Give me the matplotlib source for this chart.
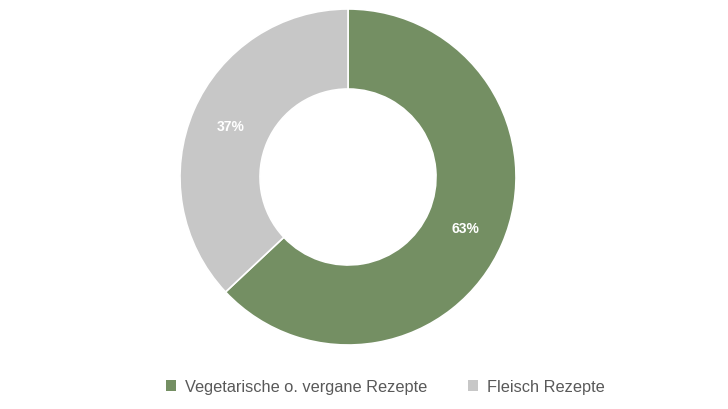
import matplotlib
matplotlib.use("Agg")
import matplotlib.pyplot as plt
from matplotlib.patches import Patch
import numpy as np

plt.rcParams['font.family'] = ['Liberation Sans', 'DejaVu Sans']

categories = ["Vegetarische o. vergane Rezepte", "Fleisch Rezepte"]
values = [63, 37]
labels = ["63%", "37%"]
colors = ["#748f63", "#c7c7c7"]

fig = plt.figure(figsize=(7.28, 4.10), dpi=100)
ax = fig.add_axes([180/728, 64/410, 336/728, 336/410])
wedges, _ = ax.pie(values, colors=colors, startangle=90, counterclock=False,
                   radius=1.0, wedgeprops=dict(width=80/168, edgecolor='white', linewidth=1.2))
r_mid = 1 - 40/168
cum = 0
for v, lab in zip(values, labels):
    mid = (cum + v/2) / sum(values) * 2*np.pi
    x = r_mid*np.sin(mid); y = r_mid*np.cos(mid)
    ax.text(x, y, lab, ha='center', va='center', color='white', fontsize=10, fontweight='bold')
    cum += v
ax.set_xlim(-1, 1); ax.set_ylim(-1, 1)
ax.set_aspect('equal')
ax.axis('off')

handles = [Patch(facecolor=c, edgecolor='none') for c in colors]
fig.legend(handles, categories, loc='center', bbox_to_anchor=(385/728, 1-388/410), ncol=2,
           frameon=False, fontsize=11.8, handlelength=0.65, handleheight=0.65,
           handletextpad=0.5, columnspacing=2.5, labelcolor='#595959')
fig.savefig("out.png", dpi=100)
